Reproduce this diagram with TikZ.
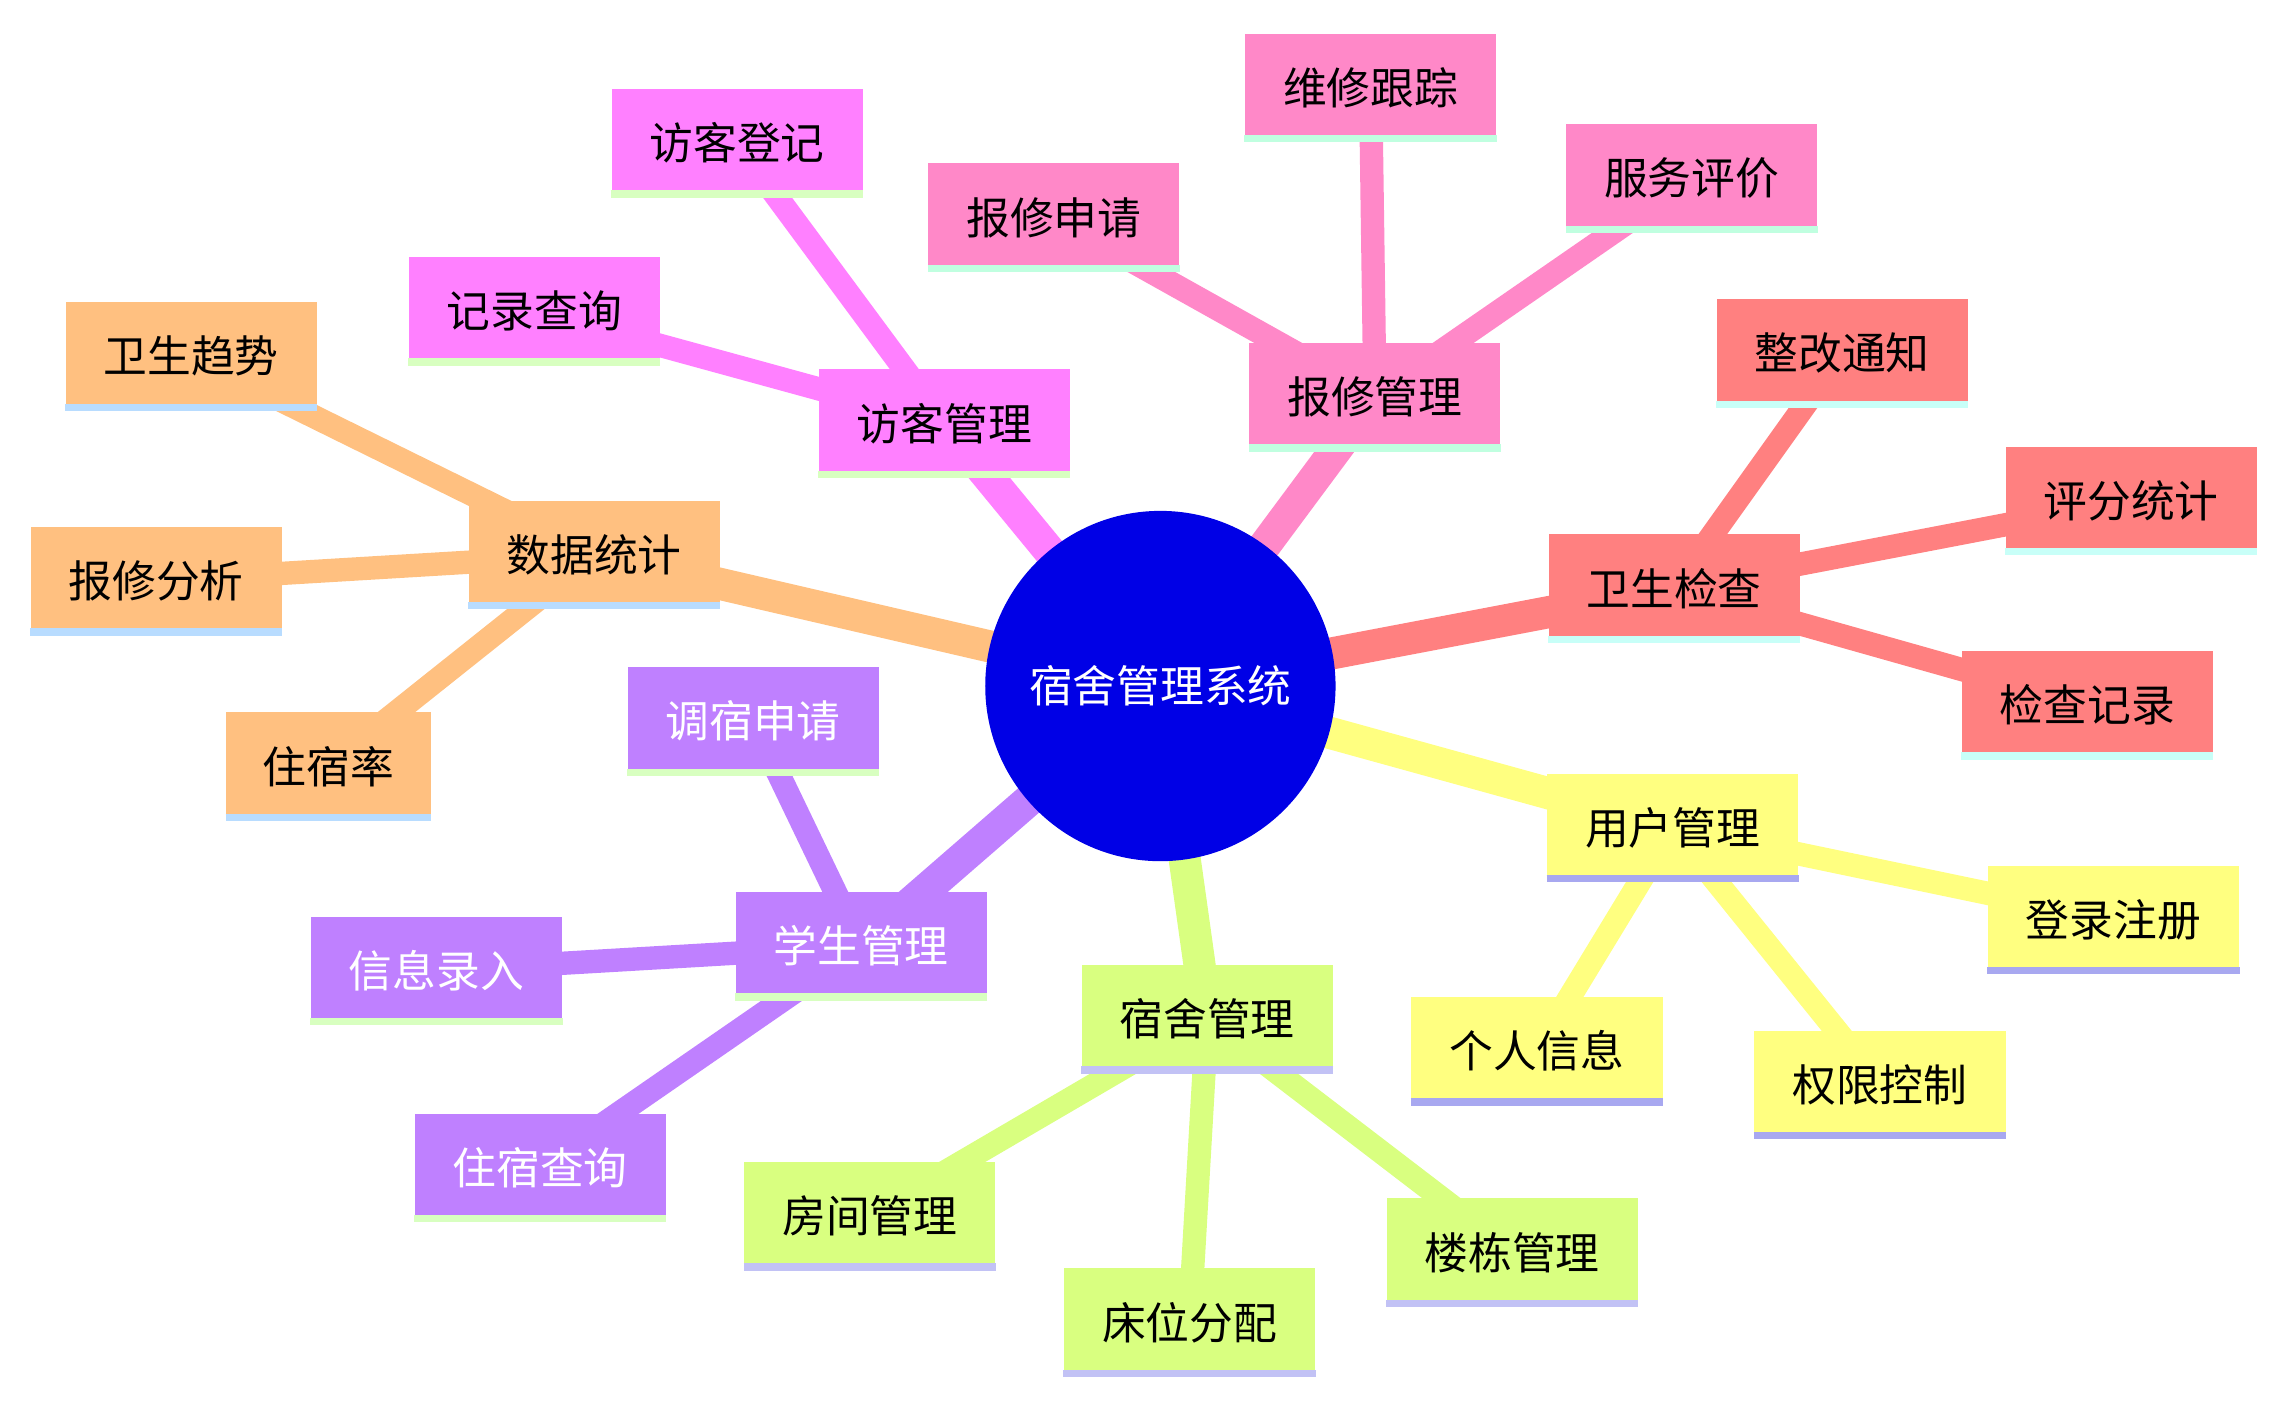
\documentclass[tikz,border=0pt]{standalone}
\usepackage{fontspec}
\setmainfont{Noto Sans CJK SC}
\usetikzlibrary{backgrounds}
\definecolor{cRed}{HTML}{FF8080}
\definecolor{cYel}{HTML}{FFFF80}
\definecolor{cGrn}{HTML}{D9FF80}
\definecolor{cPur}{HTML}{BF80FF}
\definecolor{cOra}{HTML}{FFC080}
\definecolor{cMag}{HTML}{FF80FF}
\definecolor{cPnk}{HTML}{FF88C8}
\definecolor{uCyan}{HTML}{C8FFF8}
\definecolor{uLav}{HTML}{A8A8F0}
\definecolor{uGrn}{HTML}{D8FFC0}
\definecolor{uBlue}{HTML}{B8DCFF}
\definecolor{uMint}{HTML}{C0FFE0}
\tikzset{
 box/.style={rectangle, minimum width=86pt, minimum height=37pt, inner sep=2pt, font=\fontsize{15}{18}\selectfont},
 ul/.style={line width=2.5pt},
 trunk/.style={line width=11pt},
 twig/.style={line width=8pt},
}
\newcommand{\bx}[6]{% name, pos, fill, underline, text colour, text
 \node[box, fill=#3, text=#5] (#1) at (#2) {#6};
 \draw[ul, #4] ([yshift=1.2pt]#1.south west) -- ([yshift=1.2pt]#1.south east);}
\begin{document}
\begin{tikzpicture}[x=0.5pt, y=-0.5pt]
\useasboundingbox (0,0) rectangle (1560,960);
\node[circle, fill={rgb,255:red,0;green,0;blue,230}, text=white, minimum size=120pt, font=\fontsize{15}{18}\selectfont] (c) at (795,470) {宿舍管理系统};
% branches
\bx{ws}{1147,403}{cRed}{uCyan}{black}{卫生检查}
\bx{ws1}{1262,242}{cRed}{uCyan}{black}{整改通知}
\bx{ws2}{1460,343}{cRed}{uCyan}{black}{评分统计}
\bx{ws3}{1430,483}{cRed}{uCyan}{black}{检查记录}
\bx{yh}{1146,567}{cYel}{uLav}{black}{用户管理}
\bx{yh1}{1448,630}{cYel}{uLav}{black}{登录注册}
\bx{yh2}{1053,720}{cYel}{uLav}{black}{个人信息}
\bx{yh3}{1288,743}{cYel}{uLav}{black}{权限控制}
\bx{ss}{827,698}{cGrn}{uLav!70}{black}{宿舍管理}
\bx{ss1}{596,833}{cGrn}{uLav!70}{black}{房间管理}
\bx{ss2}{815,906}{cGrn}{uLav!70}{black}{床位分配}
\bx{ss3}{1036,858}{cGrn}{uLav!70}{black}{楼栋管理}
\bx{xs}{590,648}{cPur}{uGrn}{white}{学生管理}
\bx{xs1}{516,494}{cPur}{uGrn}{white}{调宿申请}
\bx{xs2}{299,665}{cPur}{uGrn}{white}{信息录入}
\bx{xs3}{370,800}{cPur}{uGrn}{white}{住宿查询}
\bx{sj}{407,380}{cOra}{uBlue}{black}{数据统计}
\bx{sj1}{131,244}{cOra}{uBlue}{black}{卫生趋势}
\bx{sj2}{107,398}{cOra}{uBlue}{black}{报修分析}
\node[box, minimum width=70pt, fill=cOra] (sj3) at (225,525) {住宿率};
\draw[ul, uBlue] ([yshift=1.2pt]sj3.south west) -- ([yshift=1.2pt]sj3.south east);
\bx{fk}{647,290}{cMag}{uGrn}{black}{访客管理}
\bx{fk1}{505,98}{cMag}{uGrn}{black}{访客登记}
\bx{fk2}{366,213}{cMag}{uGrn}{black}{记录查询}
\bx{bx}{942,272}{cPnk}{uMint}{black}{报修管理}
\bx{bx1}{722,149}{cPnk}{uMint}{black}{报修申请}
\bx{bx2}{939,60}{cPnk}{uMint}{black}{维修跟踪}
\bx{bx3}{1159,122}{cPnk}{uMint}{black}{服务评价}
\begin{scope}[on background layer]
\draw[trunk,cRed] (c.center) -- (ws.center);
\draw[twig,cRed] (ws.center) -- (ws1.center) (ws.center) -- (ws2.center) (ws.center) -- (ws3.center);
\draw[trunk,cYel] (c.center) -- (yh.center);
\draw[twig,cYel] (yh.center) -- (yh1.center) (yh.center) -- (yh2.center) (yh.center) -- (yh3.center);
\draw[trunk,cGrn] (c.center) -- (ss.center);
\draw[twig,cGrn] (ss.center) -- (ss1.center) (ss.center) -- (ss2.center) (ss.center) -- (ss3.center);
\draw[trunk,cPur] (c.center) -- (xs.center);
\draw[twig,cPur] (xs.center) -- (xs1.center) (xs.center) -- (xs2.center) (xs.center) -- (xs3.center);
\draw[trunk,cOra] (c.center) -- (sj.center);
\draw[twig,cOra] (sj.center) -- (sj1.center) (sj.center) -- (sj2.center) (sj.center) -- (sj3.center);
\draw[trunk,cMag] (c.center) -- (fk.center);
\draw[twig,cMag] (fk.center) -- (fk1.center) (fk.center) -- (fk2.center);
\draw[trunk,cPnk] (c.center) -- (bx.center);
\draw[twig,cPnk] (bx.center) -- (bx1.center) (bx.center) -- (bx2.center) (bx.center) -- (bx3.center);
\end{scope}
\end{tikzpicture}
\end{document}
